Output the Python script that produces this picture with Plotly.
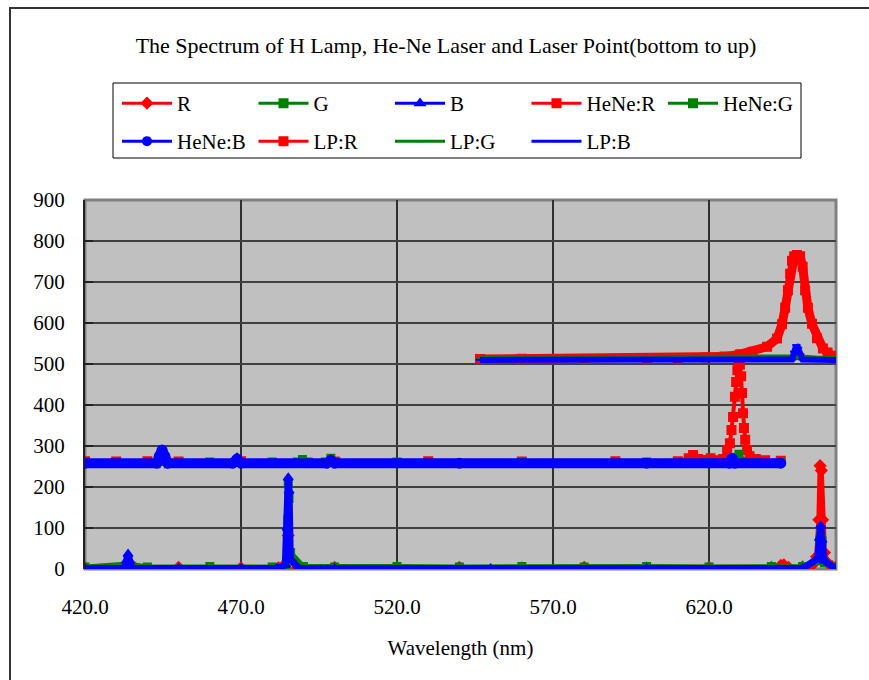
import plotly.graph_objects as go

# ---- H lamp (bottom trace group, no offset) ----
h_wl_R = [420, 432, 433.8, 436, 450, 470, 482, 484.6, 485.15, 485.6, 488, 500, 520, 540, 560, 580,
          600, 620, 640, 643, 644, 645.5, 650, 653, 654.5, 655.2, 655.6, 656.0, 656.4, 657.0, 658,
          659.5, 660.7]
h_R = [3, 3, 6, 3, 4, 3, 3, 15, 82, 20, 3, 4, 3, 4, 3, 4,
       3, 4, 4, 9, 10, 4, 5, 9, 30, 120, 252, 240, 120, 40, 15,
       6, 4]

h_wl_G = [420, 433.8, 440, 460, 480, 484.5, 485.0, 485.15, 485.4, 485.9, 490, 500, 520, 540, 560,
          580, 600, 620, 640, 650, 654.8, 655.5, 655.8, 656.2, 657, 660.7]
h_G = [5, 12, 5, 6, 5, 10, 120, 208, 172, 40, 6, 5, 6, 5, 6,
       5, 6, 5, 6, 6, 20, 70, 85, 70, 15, 5]

h_wl_B = [420, 432.6, 433.3, 433.8, 434.3, 435, 450, 470, 481.5, 484.2, 484.8, 485.15, 485.4,
          485.8, 488.5, 500, 550, 600, 650, 654.8, 655.4, 655.8, 656.2, 656.9, 660.7]
h_B = [1, 2, 20, 36, 20, 2, 1, 1, 1, 10, 100, 222, 190,
       25, 1, 1, 1, 1, 1, 25, 75, 105, 70, 20, 1]

# ---- He-Ne laser (middle group) ----
hene_wl_R = [420, 430, 440, 444.7, 450, 470, 500, 530, 560, 590, 610, 613.5, 614.9, 616.5, 618.5,
             620.5, 622.5, 624.5, 625.8, 626.7, 627.2, 627.7, 628.3, 628.7, 629.1, 629.5, 629.9,
             630.3, 630.6, 630.9, 631.2, 631.6, 632.2, 633, 635, 638, 643]
hene_R = [263, 262, 263, 268, 262, 263, 262, 263, 262, 263, 263, 270, 278, 268, 266,
          270, 265, 268, 290, 307, 339, 371, 420, 456, 485, 500, 498,
          470, 429, 380, 344, 315, 290, 275, 268, 265, 264]

hene_wl_G = [420, 444.7, 460, 480, 488, 489.7, 491.5, 497, 498.8, 500.5, 520, 560, 600, 620,
             628.5, 629.6, 630.8, 635, 643]
hene_G = [261, 262, 261, 261, 261, 267, 261, 261, 270, 261, 261, 261, 261, 261,
          262, 280, 262, 261, 261]

hene_wl_B = [420, 443, 443.8, 444.7, 445.6, 446.5, 467.3, 468.7, 470, 497.5, 498.8, 500, 540,
             600, 626.5, 627.4, 628.3, 643]
hene_B = [258, 258, 275, 290, 275, 258, 258, 268, 258, 258, 265, 258, 258,
          258, 258, 270, 258, 258]

# ---- Laser pointer (top group) ----
lp_wl_R = [546.6, 560, 580, 600, 610, 619, 625, 630, 634, 638.6, 641.8, 643.4, 644.4, 645.3,
           646.0, 646.6, 647.3, 648.2, 649.2, 650.0, 650.8, 651.7, 653.0, 654.6, 656.5, 658.0,
           659.7, 660.7]
lp_R = [512, 513, 512, 513, 513, 516, 518, 524, 530, 542, 562, 597, 637, 680,
        720, 752, 763, 766, 763, 737, 680, 637, 598, 563, 538, 528,
        520, 516]

lp_wl_G = [546.6, 580, 620, 640, 647.5, 648.3, 649.2, 655, 660.7]
lp_G = [513, 513, 513, 514, 516, 518, 516, 513, 513]

lp_wl_B = [546.6, 580, 620, 640, 646.6, 647.3, 648.0, 648.5, 649.2, 650.0, 660.7]
lp_B = [510, 510, 510, 510, 511, 530, 546, 540, 524, 511, 510]

x_ticks = [420, 470, 520, 570, 620]
x_tick_labels = ["420.0", "470.0", "520.0", "570.0", "620.0"]

RED, GREEN, BLUE = "#FF0000", "#008000", "#0000FF"
FONT = "Liberation Serif"

# name, x, y, colour, marker symbol, marker size, line width, legend id
series = [
    ("R", h_wl_R, h_R, RED, "diamond", 8, 5, "legend"),
    ("G", h_wl_G, h_G, GREEN, "square", 7, 5, "legend"),
    ("B", h_wl_B, h_B, BLUE, "triangle-up", 8, 7, "legend"),
    ("HeNe:R", hene_wl_R, hene_R, RED, "square", 8, 4, "legend"),
    ("HeNe:G", hene_wl_G, hene_G, GREEN, "square", 7, 6, "legend"),
    ("HeNe:B", hene_wl_B, hene_B, BLUE, "circle", 9, 10, "legend2"),
    ("LP:R", lp_wl_R, lp_R, RED, "square", 8, 9, "legend2"),
    ("LP:G", lp_wl_G, lp_G, GREEN, "line-ew", 6, 6, "legend2"),
    ("LP:B", lp_wl_B, lp_B, BLUE, "line-ew", 6, 6, "legend2"),
]

fig = go.Figure()
for name, xs, ys, col, sym, msize, lw, leg in series:
    # the spectrum itself (thick, dense look)
    fig.add_trace(go.Scatter(
        x=xs, y=ys, name=name, mode="lines+markers", legendgroup=name, showlegend=False,
        line=dict(color=col, width=lw),
        marker=dict(color=col, symbol=sym, size=msize, line=dict(color=col, width=2)),
    ))
    # legend key with a slimmer line
    fig.add_trace(go.Scatter(
        x=[None], y=[None], name=name, mode="lines+markers", legendgroup=name, legend=leg,
        line=dict(color=col, width=3),
        marker=dict(color=col, symbol=sym, size=8 if sym != "line-ew" else 6,
                    line=dict(color=col, width=2)),
    ))

W, H = 869, 680
L, R, T, B = 85, 33, 200, 111
pw, ph = W - L - R, H - T - B


def px_x(px):
    return (px - L) / pw


def px_y(py):
    return (H - B - py) / ph


legend_common = dict(
    orientation="h", xanchor="left", yanchor="top", xref="paper", yref="paper",
    bgcolor="rgba(0,0,0,0)", borderwidth=0, font=dict(family=FONT, size=21, color="black"),
    itemwidth=50, entrywidthmode="pixels", entrywidth=71.5,
)

fig.update_layout(
    width=W, height=H,
    margin=dict(l=L, r=R, t=T, b=B, autoexpand=False),
    paper_bgcolor="white",
    plot_bgcolor="#C0C0C0",
    font=dict(family=FONT, size=21, color="black"),
    title=dict(
        text="The Spectrum of H Lamp, He-Ne Laser and Laser Point(bottom to up)",
        x=px_x(446), xref="paper", xanchor="center",
        y=1 - 45 / H, yref="container", yanchor="middle",
        font=dict(family=FONT, size=22, color="black"),
    ),
    legend=dict(x=px_x(117), y=px_y(83), **legend_common),
    legend2=dict(x=px_x(117), y=px_y(121), **legend_common),
    xaxis=dict(
        range=[420, 660.7], tickvals=x_ticks, ticktext=x_tick_labels,
        showgrid=True, gridcolor="#303030", gridwidth=1.5,
        zeroline=False, showline=False, ticks="",
        ticklabelstandoff=23,
        title=dict(text="Wavelength (nm)", standoff=22, font=dict(family=FONT, size=21)),
    ),
    yaxis=dict(
        range=[0, 900], dtick=100, tick0=0,
        showgrid=True, gridcolor="#404040", gridwidth=2,
        zeroline=False, showline=True, linecolor="#202020", linewidth=2,
        ticks="inside", ticklen=8, tickwidth=2, tickcolor="#202020",
        ticklabelstandoff=14,
    ),
    shapes=[
        # plot-area frame
        dict(type="rect", xref="paper", yref="paper", x0=0, x1=1, y0=0, y1=1,
             line=dict(color="#808080", width=3), fillcolor="rgba(0,0,0,0)", layer="between"),
        # legend box
        dict(type="rect", xref="paper", yref="paper",
             x0=px_x(113), x1=px_x(801), y0=px_y(158), y1=px_y(83),
             line=dict(color="black", width=1), fillcolor="rgba(0,0,0,0)"),
        # chart frame
        dict(type="rect", xref="paper", yref="paper",
             x0=px_x(10), x1=px_x(900), y0=px_y(720), y1=px_y(8),
             line=dict(color="#333333", width=2), fillcolor="rgba(0,0,0,0)"),
    ],
)

fig.write_html("out.html")
